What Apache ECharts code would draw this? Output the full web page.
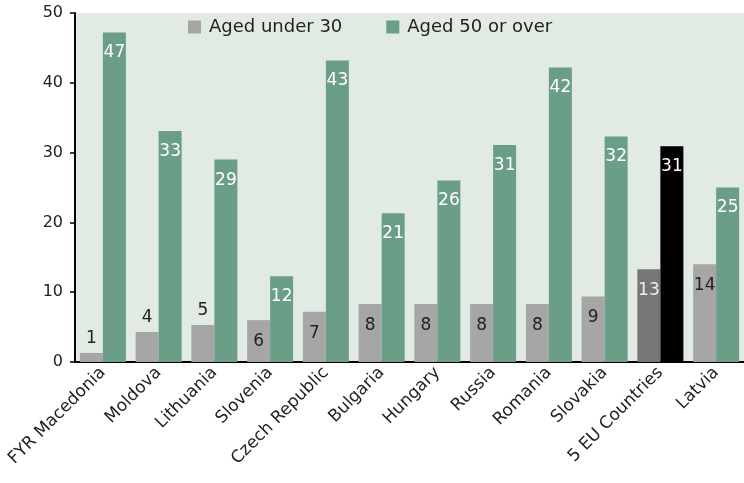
<!DOCTYPE html>
<html>
<head>
<meta charset="utf-8">
<script src="https://cdn.jsdelivr.net/npm/echarts@6/dist/echarts.min.js"></script>
<style>
  html, body { margin: 0; padding: 0; background: #fff; }
  #chart { width: 744px; height: 483px; }
</style>
</head>
<body>
<div id="chart"></div>
<script>
var countries = ["FYR Macedonia", "Moldova", "Lithuania", "Slovenia", "Czech Republic", "Bulgaria",
  "Hungary", "Russia", "Romania", "Slovakia", "5 EU Countries", "Latvia"];
var under30 = [1.3, 4.3, 5.3, 6.0, 7.2, 8.3, 8.3, 8.3, 8.3, 9.4, 13.3, 14.0];
var over50 = [47.2, 33.1, 29.0, 12.3, 43.2, 21.3, 26.0, 31.1, 42.2, 32.3, 30.9, 25.0];
var seriesNames = ["Aged under 30", "Aged 50 or over"];
var yTicks = [0, 10, 20, 30, 40, 50];
var highlight = "5 EU Countries";

var font = "DejaVu Sans";
var myChart = echarts.init(document.getElementById("chart"));

function fmt(p) {
  return Math.round(p.value);
}

var under30Data = under30.map(function (v, i) {
  var item = { value: v };
  if (countries[i] === highlight) {
    item.itemStyle = { color: "#767676" };
    item.label = { color: "#eeeeee" };
  }
  if (v < 5.5) {
    item.label = { position: "top", distance: 6 }; // small bars: label above
  }
  return item;
});

var over50Data = over50.map(function (v, i) {
  var item = { value: v };
  if (countries[i] === highlight) {
    item.itemStyle = { color: "#000000" };
  }
  return item;
});

var option = {
  animation: false,
  textStyle: { fontFamily: font },
  grid: {
    left: 75,
    right: -3,
    top: 13,
    bottom: 121,
    show: true,
    backgroundColor: "#e1ebe4",
    borderWidth: 0,
  },
  legend: {
    left: 183,
    top: 13,
    itemWidth: 13,
    itemHeight: 13,
    itemGap: 44,
    icon: "rect",
    textStyle: { fontSize: 18, color: "#222", fontFamily: font, padding: [0, 0, 0, 3] },
    data: seriesNames,
  },
  xAxis: {
    type: "category",
    data: countries,
    axisLine: { lineStyle: { color: "#000", width: 2 } },
    axisTick: { length: 5, lineStyle: { color: "#000", width: 1.5 } },
    axisLabel: {
      rotate: 45,
      interval: 0,
      margin: 8,
      fontSize: 17,
      color: "#222",
      fontFamily: font,
    },
  },
  yAxis: {
    type: "value",
    min: yTicks[0],
    max: yTicks[yTicks.length - 1],
    interval: yTicks[1] - yTicks[0],
    axisLine: { show: true, lineStyle: { color: "#000", width: 2 } },
    axisTick: { show: true, length: 5, lineStyle: { color: "#000", width: 1.5 } },
    splitLine: { show: false },
    axisLabel: { fontSize: 16, color: "#222", margin: 12, fontFamily: font },
  },
  series: [
    {
      name: seriesNames[0],
      type: "bar",
      barWidth: 23,
      barGap: "0%",
      itemStyle: { color: "#a6a6a6" },
      label: {
        show: true,
        position: "insideTop",
        distance: 13,
        fontSize: 17,
        color: "#222",
        fontFamily: font,
        formatter: fmt,
      },
      data: under30Data,
    },
    {
      name: seriesNames[1],
      type: "bar",
      barWidth: 23,
      barGap: "0%",
      itemStyle: { color: "#6b9e86" },
      label: {
        show: true,
        position: "insideTop",
        distance: 12,
        fontSize: 17,
        color: "#ffffff",
        fontFamily: font,
        formatter: fmt,
      },
      data: over50Data,
    },
  ],
};

myChart.setOption(option);
</script>
</body>
</html>
